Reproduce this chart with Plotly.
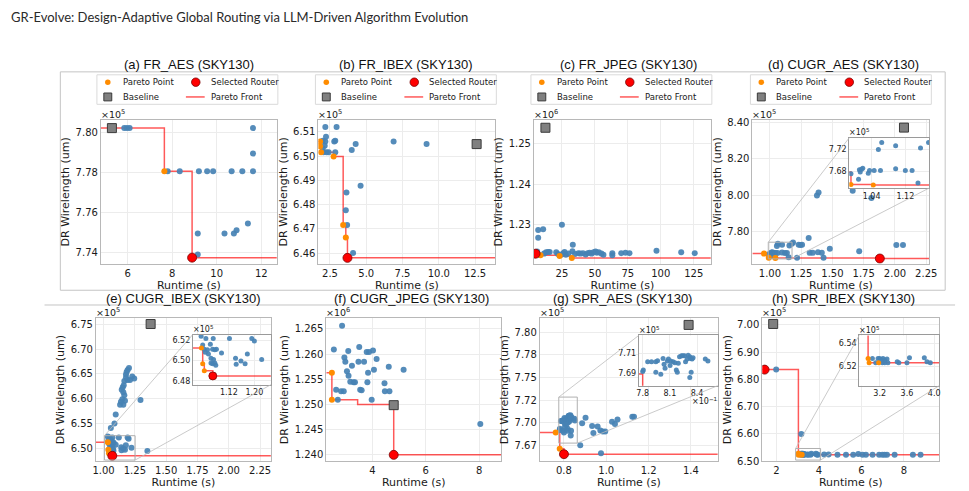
import plotly.graph_objects as go

W, H = 969, 491
FONT = "DejaVu Sans"

# ======================= DATA =======================
# (a) FR_AES  (wirelength x1e5)
A_BLUE_X = [5.85, 5.97, 6.09, 7.80, 8.34, 9.20, 9.57, 9.84, 10.67, 11.15, 11.63, 11.63, 11.63, 9.15, 9.15, 10.35, 10.77, 10.89, 11.40]
A_BLUE_Y = [7.802, 7.802, 7.802, 7.7806, 7.7806, 7.7806, 7.7806, 7.7806, 7.7806, 7.7806, 7.7806, 7.802, 7.7894, 7.7496, 7.7392, 7.7496, 7.7496, 7.7512, 7.7546]
A_PAR_X = [7.65]
A_PAR_Y = [7.7806]
A_SEL_X, A_SEL_Y = [8.895], [7.7376]
A_BASE_X, A_BASE_Y = [5.295], [7.802]
A_FRONT_X = [5.295, 7.65, 8.895]
A_FRONT_Y = [7.802, 7.7806, 7.7376]
A_XT = [6, 8, 10, 12]
A_YT = [7.74, 7.76, 7.78, 7.80]

# (b) FR_IBEX (x1e5)
B_BLUE_X = [2.18, 2.955, 2.227, 2.0, 2.18, 2.136, 2.0, 2.045, 2.27, 2.41, 2.795, 2.864, 2.864, 4.0, 4.27, 6.886, 9.16, 4.61, 3.636, 3.59, 3.68, 4.09]
B_BLUE_Y = [6.512, 6.512, 6.508, 6.5064, 6.5061, 6.5043, 6.5032, 6.5016, 6.5016, 6.5016, 6.5061, 6.5064, 6.5016, 6.5026, 6.505, 6.5061, 6.505, 6.4878, 6.485, 6.4777, 6.4716, 6.4601]
B_PAR_X = [1.818, 1.818, 1.886, 2.75, 3.409, 3.591]
B_PAR_Y = [6.5061, 6.5041, 6.5016, 6.4999, 6.4716, 6.4665]
B_SEL_X, B_SEL_Y = [3.705], [6.4581]
B_BASE_X, B_BASE_Y = [12.61], [6.505]
B_FRONT_X = [1.818, 1.818, 1.886, 2.75, 3.409, 3.591, 3.705]
B_FRONT_Y = [6.5061, 6.5041, 6.5016, 6.4999, 6.4716, 6.4665, 6.4581]
B_XT = [2.5, 5.0, 7.5, 10.0, 12.5]
B_YT = [6.46, 6.47, 6.48, 6.49, 6.50, 6.51]

# (c) FR_JPEG (x1e6)
C_BLUE_X = [7, 7, 10.75, 25, 33.25, 6.25, 6.0, 7.5, 11.5, 13.0, 14.5, 15.7, 20.7, 22, 24.5, 26, 27, 28, 30, 33, 35, 37.5, 39, 41, 43, 44.5, 46, 47.5, 49, 50.5, 51.5, 53, 55, 56.5, 63.25, 63.25, 70, 73.25, 76.25, 96.75, 115.5, 125.75]
C_BLUE_Y = [1.2287, 1.2268, 1.2289, 1.2300, 1.2251, 1.2234, 1.2229, 1.2226, 1.2229, 1.2232, 1.2233, 1.2233, 1.2232, 1.2228, 1.2226, 1.2230, 1.2233, 1.2226, 1.2229, 1.2235, 1.2228, 1.2230, 1.2229, 1.2230, 1.2227, 1.2230, 1.2231, 1.2229, 1.2232, 1.2234, 1.2231, 1.2232, 1.2229, 1.2226, 1.2230, 1.2225, 1.2230, 1.2231, 1.2230, 1.2236, 1.2232, 1.2230]
C_PAR_X = [8.75, 23.25, 32.5]
C_PAR_Y = [1.22247, 1.2223, 1.22182]
C_SEL_X, C_SEL_Y = [5.0], [1.22287]
C_BASE_X, C_BASE_Y = [12.5], [1.2540]
C_FRONT_X = [5.0, 8.75, 23.25, 32.5]
C_FRONT_Y = [1.22287, 1.22247, 1.2223, 1.22182]
C_XT = [25, 50, 75, 100, 125]
C_YT = [1.23, 1.24, 1.25]

# (d) CUGR_AES (x1e5)
D_BLUE_X = [0.991, 1.011, 1.013, 1.016, 1.019, 1.009, 1.032, 1.035, 1.046, 1.061, 1.097, 1.120, 1.136, 1.150, 1.064, 1.056, 1.097, 1.156, 1.175,
            1.376, 1.389, 1.310, 1.479, 1.714, 2.011, 2.064, 1.429, 1.384, 1.415, 1.217, 1.230, 1.244, 1.257, 1.185, 1.318, 1.342, 1.662, 1.812]
D_BLUE_Y = [7.676, 7.683, 7.679, 7.684, 7.686, 7.666, 7.677, 7.682, 7.682, 7.682, 7.685, 7.682, 7.682, 7.659, 7.733, 7.720, 7.727, 7.723, 7.733,
            7.997, 8.014, 7.764, 7.705, 7.692, 7.726, 7.726, 7.656, 7.687, 7.683, 7.656, 7.728, 7.726, 7.728, 7.740, 7.683, 7.683, 8.024, 7.983]
D_PAR_X = [0.953, 0.991, 1.044]
D_PAR_Y = [7.679, 7.6565, 7.6555]
D_SEL_X, D_SEL_Y = [1.879], [7.652]
D_BASE_X, D_BASE_Y = [2.072], [8.3695]
D_FRONT_X = [0.953, 0.991, 1.044, 1.879]
D_FRONT_Y = [7.679, 7.6565, 7.6555, 7.652]
D_XT = [1.00, 1.25, 1.50, 1.75, 2.00, 2.25]
D_YT = [7.80, 8.00, 8.20, 8.40]
D_IXT = [1.04, 1.12]
D_IYT = [7.68, 7.72]

# (e) CUGR_IBEX (x1e5)
E_BLUE_X = [1.033, 1.048, 1.071, 1.122, 1.192, 1.200, 1.038, 1.043, 1.053, 1.062, 1.069, 1.076, 1.081, 1.097, 1.046, 1.056, 1.064, 1.069, 1.076, 1.079, 1.064, 1.072, 1.141, 1.143, 1.158, 1.171, 1.178, 1.223,
            1.145, 1.153, 1.158, 1.166, 1.150, 1.171, 1.161, 1.166, 1.179, 1.179, 1.184, 1.192, 1.203, 1.192, 1.211, 1.229, 1.245, 1.158, 1.132, 1.139, 1.097, 1.087, 1.058, 1.295, 1.350]
E_BLUE_Y = [6.5238, 6.5216, 6.5216, 6.5216, 6.5216, 6.519, 6.5152, 6.511, 6.5105, 6.5159, 6.511, 6.5105, 6.511, 6.5073, 6.508, 6.5063, 6.5022, 6.4968, 6.4975, 6.4952, 6.4975, 6.501, 6.5022, 6.4962, 6.4994, 6.4968, 6.5063, 6.501,
            6.618, 6.623, 6.613, 6.607, 6.599, 6.596, 6.627, 6.636, 6.643, 6.649, 6.654, 6.658, 6.662, 6.638, 6.638, 6.645, 6.641, 6.588, 6.588, 6.594, 6.568, 6.550, 6.541, 6.5975, 6.4947]
E_PAR_X = [1.034, 1.038, 1.043]
E_PAR_Y = [6.5121, 6.4968, 6.4898]
E_SEL_X, E_SEL_Y = [1.0697], [6.4848]
E_BASE_X, E_BASE_Y = [1.376], [6.7507]
E_FRONT_X = [1.034, 1.038, 1.043, 1.0697]
E_FRONT_Y = [6.5121, 6.4968, 6.4898, 6.4848]
E_XT = [1.00, 1.25, 1.50, 1.75, 2.00, 2.25]
E_YT = [6.50, 6.55, 6.60, 6.65, 6.70, 6.75]
E_IXT = [1.12, 1.20]
E_IYT = [6.48, 6.50, 6.52]

# (f) CUGR_JPEG (x1e6)
F_BLUE_X = [2.868, 2.56, 2.954, 2.99, 3.10, 3.51, 3.237, 3.05, 3.11, 3.175, 3.298, 3.35, 3.48, 3.69, 3.79, 3.877, 4.025, 4.16, 3.84, 4.06, 3.815, 3.545, 3.60, 2.646, 2.83, 2.93, 2.708, 3.975, 4.455, 4.47, 4.64, 4.615, 5.17, 8.04]
F_BLUE_Y = [1.2656, 1.2609, 1.2593, 1.2585, 1.2606, 1.2614, 1.2577, 1.2566, 1.2557, 1.2545, 1.2544, 1.2544, 1.2585, 1.2585, 1.2604, 1.2604, 1.2607, 1.2590, 1.2563, 1.2569, 1.2544, 1.2529, 1.2528, 1.2529, 1.2526, 1.2526, 1.25095, 1.25095, 1.2542, 1.2526, 1.2526, 1.2575, 1.2569, 1.2461]
F_PAR_X = [2.486, 2.486]
F_PAR_Y = [1.2563, 1.25095]
F_SEL_X, F_SEL_Y = [4.8], [1.2400]
F_BASE_X, F_BASE_Y = [4.8], [1.24986]
F_FRONT_X = [2.486, 2.486, 3.45, 4.8, 4.8]
F_FRONT_Y = [1.2563, 1.25095, 1.24998, 1.24986, 1.2400]
F_XT = [4, 6, 8]
F_YT = [1.240, 1.245, 1.250, 1.255, 1.260, 1.265]

# (g) SPR_AES (x1e5)
G_BLUE_X = [0.78, 0.7807, 0.7855, 0.7898, 0.7945, 0.7964, 0.7945, 0.80, 0.8025, 0.8036, 0.8047, 0.8073, 0.8084, 0.8109, 0.8135, 0.8156, 0.8171, 0.8182, 0.8193, 0.8207, 0.8229, 0.8244, 0.8262, 0.8273, 0.8291, 0.8302, 0.832, 0.8327, 0.8345, 0.8356, 0.8335, 0.832, 0.8491, 0.852, 0.8102,
            0.877, 0.902, 0.886, 0.933, 0.939, 0.959, 0.972, 0.983, 0.995, 0.975, 1.027, 1.041, 1.053, 1.123, 1.131]
G_BLUE_Y = [7.6917, 7.6933, 7.7017, 7.7017, 7.7017, 7.7027, 7.691, 7.689, 7.705, 7.699, 7.695, 7.7023, 7.7043, 7.7023, 7.7017, 7.7007, 7.6933, 7.691, 7.70, 7.7067, 7.7077, 7.7077, 7.7077, 7.7017, 7.7043, 7.7083, 7.7067, 7.705, 7.7043, 7.7057, 7.691, 7.6857, 7.7043, 7.7023, 7.6977,
            7.675, 7.7053, 7.6992, 7.6963, 7.6884, 7.6956, 7.6913, 7.6902, 7.6902, 7.666, 7.701, 7.6985, 7.7035, 7.7064, 7.7064]
G_PAR_X = [0.761, 0.78]
G_PAR_Y = [7.6891, 7.6711]
G_SEL_X, G_SEL_Y = [0.80], [7.665]
G_BASE_X, G_BASE_Y = [1.389], [7.8083]
G_FRONT_X = [0.761, 0.78, 0.80]
G_FRONT_Y = [7.6891, 7.6711, 7.665]
G_XT = [0.8, 1.0, 1.2, 1.4]
G_YT = [7.675, 7.700, 7.725, 7.750, 7.775, 7.800]
G_YT_TEXT = ['7.67', '7.70', '7.72', '7.75', '7.78', '7.80']
G_IXT = [0.78, 0.81, 0.84]
G_IXT_TEXT = ['7.8', '8.1', '8.4']
G_IYT = [7.69, 7.71]

# (h) SPR_IBEX (x1e5)
H_BLUE_X = [1.984, 3.168, 3.093, 3.176, 3.2, 3.224, 3.249, 3.273, 3.307, 3.321, 3.239, 3.273, 3.142, 3.457, 3.481, 3.6, 3.637, 3.855, 3.894, 3.943,
            4.24, 4.45, 4.87, 5.27, 5.61, 5.85, 6.05, 6.21, 6.52, 6.83, 6.98, 7.09, 7.20, 7.56, 8.42, 8.78]
H_BLUE_Y = [6.836, 6.5993, 6.5269, 6.5269, 6.5269, 6.5261, 6.5269, 6.5256, 6.5264, 6.5233, 6.5233, 6.5233, 6.5233, 6.5242, 6.5233, 6.5233, 6.5275, 6.5275, 6.5242, 6.5233,
            6.5242, 6.5242, 6.5233, 6.5233, 6.5238, 6.5260, 6.5233, 6.5233, 6.5233, 6.5233, 6.5233, 6.5233, 6.5233, 6.5233, 6.5233, 6.5233]
H_PAR_X = [3.03, 3.045, 3.185]
H_PAR_Y = [6.5269, 6.5233, 6.5233]
H_SEL_X, H_SEL_Y = [1.439], [6.836]
H_BASE_X, H_BASE_Y = [1.844], [7.0036]
H_FRONT_X = [1.439, 3.03, 3.045, 3.185]
H_FRONT_Y = [6.836, 6.5269, 6.5233, 6.5233]
H_XT = [2, 4, 6, 8]
H_YT = [6.50, 6.60, 6.70, 6.80, 6.90, 7.00]
H_IXT = [3.2, 3.6, 4.0]
H_IYT = [6.52, 6.54]

TITLES = ['(a) FR_AES (SKY130)', '(b) FR_IBEX (SKY130)', '(c) FR_JPEG (SKY130)', '(d) CUGR_AES (SKY130)',
          '(e) CUGR_IBEX (SKY130)', '(f) CUGR_JPEG (SKY130)', '(g) SPR_AES (SKY130)', '(h) SPR_IBEX (SKY130)']
EXPONENTS = ['5', '5', '6', '5', '5', '6', '5', '5']
HEADER = 'GR-Evolve: Design-Adaptive Global Routing via LLM-Driven Algorithm Evolution'

# ======================= LAYOUT CONFIG (pixels) =======================
def fmt(vals, f):
    return [f.format(v) for v in vals]

PANELS = [
    dict(box=(99, 119, 277, 265), xr=[4.8, 12.7], yr=[7.7346, 7.806], xt=A_XT, xtt=fmt(A_XT, '{:g}'), yt=A_YT, ytt=fmt(A_YT, '{:.2f}'),
         d=(A_BLUE_X, A_BLUE_Y, A_PAR_X, A_PAR_Y, A_SEL_X, A_SEL_Y, A_BASE_X, A_BASE_Y, A_FRONT_X, A_FRONT_Y), tx=188, ty=63, leg=95),
    dict(box=(319, 119, 498, 265), xr=[1.70, 13.9], yr=[6.4557, 6.5149], xt=B_XT, xtt=fmt(B_XT, '{:.1f}'), yt=B_YT, ytt=fmt(B_YT, '{:.2f}'),
         d=(B_BLUE_X, B_BLUE_Y, B_PAR_X, B_PAR_Y, B_SEL_X, B_SEL_Y, B_BASE_X, B_BASE_Y, B_FRONT_X, B_FRONT_Y), tx=408, ty=63, leg=316),
    dict(box=(537, 119, 716, 265), xr=[3.75, 138], yr=[1.2204, 1.2559], xt=C_XT, xtt=fmt(C_XT, '{:g}'), yt=C_YT, ytt=fmt(C_YT, '{:.2f}'),
         d=(C_BLUE_X, C_BLUE_Y, C_PAR_X, C_PAR_Y, C_SEL_X, C_SEL_Y, C_BASE_X, C_BASE_Y, C_FRONT_X, C_FRONT_Y), tx=633, ty=63, leg=534),
    dict(box=(758, 119, 937, 265), xr=[0.86, 2.275], yr=[7.6237, 8.4108], xt=D_XT, xtt=fmt(D_XT, '{:.2f}'), yt=D_YT, ytt=fmt(D_YT, '{:.2f}'),
         d=(D_BLUE_X, D_BLUE_Y, D_PAR_X, D_PAR_Y, D_SEL_X, D_SEL_Y, D_BASE_X, D_BASE_Y, D_FRONT_X, D_FRONT_Y), tx=850, ty=63, leg=756,
         inset=dict(box=(856, 137, 937, 188), xr=[0.987, 1.177], yr=[7.650, 7.7415], xt=D_IXT, xtt=fmt(D_IXT, '{:.2f}'), yt=D_IYT, ytt=fmt(D_IYT, '{:.2f}'))),
    dict(box=(94, 320, 271, 466), xr=[0.939, 2.337], yr=[6.4735, 6.7633], xt=E_XT, xtt=fmt(E_XT, '{:.2f}'), yt=E_YT, ytt=fmt(E_YT, '{:.2f}'),
         d=(E_BLUE_X, E_BLUE_Y, E_PAR_X, E_PAR_Y, E_SEL_X, E_SEL_Y, E_BASE_X, E_BASE_Y, E_FRONT_X, E_FRONT_Y), tx=183, ty=300,
         inset=dict(box=(192, 337, 271, 388), xr=[1.007, 1.252], yr=[6.4762, 6.5254], xt=E_IXT, xtt=fmt(E_IXT, '{:.2f}'), yt=E_IYT, ytt=fmt(E_IYT, '{:.2f}'))),
    dict(box=(327, 320, 504, 466), xr=[2.277, 8.825], yr=[1.2387, 1.2672], xt=F_XT, xtt=fmt(F_XT, '{:g}'), yt=F_YT, ytt=fmt(F_YT, '{:.3f}'),
         d=(F_BLUE_X, F_BLUE_Y, F_PAR_X, F_PAR_Y, F_SEL_X, F_SEL_Y, F_BASE_X, F_BASE_Y, F_FRONT_X, F_FRONT_Y), tx=413, ty=300),
    dict(box=(543, 320, 723, 466), xr=[0.686, 1.527], yr=[7.657, 7.8162], xt=G_XT, xtt=fmt(G_XT, '{:.1f}'), yt=G_YT, ytt=G_YT_TEXT,
         d=(G_BLUE_X, G_BLUE_Y, G_PAR_X, G_PAR_Y, G_SEL_X, G_SEL_Y, G_BASE_X, G_BASE_Y, G_FRONT_X, G_FRONT_Y), tx=627, ty=300,
         inset=dict(box=(643, 338, 723, 389), xr=[0.7756, 0.8629], yr=[7.6773, 7.7283], xt=G_IXT, xtt=G_IXT_TEXT, yt=G_IYT, ytt=fmt(G_IYT, '{:.2f}'), xexp='-1')),
    dict(box=(768, 320, 947, 466), xr=[1.33, 9.66], yr=[6.499, 7.0263], xt=H_XT, xtt=fmt(H_XT, '{:g}'), yt=H_YT, ytt=fmt(H_YT, '{:.2f}'),
         d=(H_BLUE_X, H_BLUE_Y, H_PAR_X, H_PAR_Y, H_SEL_X, H_SEL_Y, H_BASE_X, H_BASE_Y, H_FRONT_X, H_FRONT_Y), tx=850, ty=300,
         inset=dict(box=(866, 338, 947, 389), xr=[2.899, 4.074], yr=[6.5039, 6.5464], xt=H_IXT, xtt=fmt(H_IXT, '{:.1f}'), yt=H_IYT, ytt=fmt(H_IYT, '{:.2f}'))),
]

BLUE = '#4682B4'
ORANGE = '#FF8C00'
RED = '#FF0000'
GRAY = '#808080'
FRONT_COLOR = 'rgba(255,0,0,0.65)'
FRAME = '#c4c4c4'

def fx(p): return p / W
def fy(p): return 1 - p / H

fig = go.Figure()
layout = dict(width=W, height=H, margin=dict(l=0, r=0, t=0, b=0), paper_bgcolor='white', plot_bgcolor='white',
              showlegend=False, shapes=[], annotations=[])

def axis(box_lo, box_hi, rng, tv, tt, anchor, fsize, is_x, title=None, line='#b8b8b8'):
    dom = [fx(box_lo), fx(box_hi)] if is_x else [fy(box_hi), fy(box_lo)]
    a = dict(domain=dom, range=rng, anchor=anchor, tickmode='array', tickvals=tv, ticktext=tt,
             showgrid=True, gridcolor='#ececec', gridwidth=1, zeroline=False, showline=True, mirror=True,
             linecolor=line, linewidth=1, ticks='', tickfont=dict(family=FONT, size=fsize, color='#1a1a1a'),
             fixedrange=True)
    if title:
        a['title'] = dict(text=title, font=dict(family=FONT, size=11, color='#1a1a1a'), standoff=1 if is_x else 3)
    return a

def add_points(n, d, xr, big=9, small=6):
    bx, by, px_, py_, sx, sy, basex, basey, frx, fry = d
    xs = [xr[0]] + list(frx) + [xr[1]]
    ys = [fry[0]] + list(fry) + [fry[-1]]
    ax = dict(xaxis='x' if n == 1 else f'x{n}', yaxis='y' if n == 1 else f'y{n}')
    fig.add_trace(go.Scatter(x=xs, y=ys, mode='lines', line=dict(color=FRONT_COLOR, width=1.5, shape='hv'), hoverinfo='skip', **ax))
    fig.add_trace(go.Scatter(x=bx, y=by, mode='markers', marker=dict(color=BLUE, size=small, opacity=0.92), **ax))
    fig.add_trace(go.Scatter(x=px_, y=py_, mode='markers', marker=dict(color=ORANGE, size=small), **ax))
    fig.add_trace(go.Scatter(x=sx, y=sy, mode='markers', marker=dict(color=RED, size=big, line=dict(color='#7a0000', width=0.8)), **ax))
    fig.add_trace(go.Scatter(x=basex, y=basey, mode='markers', marker=dict(symbol='square', color=GRAY, size=big, line=dict(color='#3a3a3a', width=1)), **ax))

def data_to_px(p, x, y):
    x0, y0, x1, y1 = p['box']
    px = x0 + (x - p['xr'][0]) / (p['xr'][1] - p['xr'][0]) * (x1 - x0)
    py = y1 - (y - p['yr'][0]) / (p['yr'][1] - p['yr'][0]) * (y1 - y0)
    return px, py

def sup_text(e):
    return '×10<sup>' + e.replace('-', '−') + '</sup>'

inset_n = 9
for i, p in enumerate(PANELS):
    n = i + 1
    sfx = '' if n == 1 else str(n)
    x0, y0, x1, y1 = p['box']
    layout['xaxis' + sfx] = axis(x0, x1, p['xr'], p['xt'], p['xtt'], 'y' + sfx, 10, True, 'Runtime (s)')
    layout['yaxis' + sfx] = axis(y0, y1, p['yr'], p['yt'], p['ytt'], 'x' + sfx, 10, False, 'DR Wirelength (um)')
    add_points(n, p['d'], p['xr'])
    # exponent label
    layout['annotations'].append(dict(text=sup_text(EXPONENTS[i]), x=fx(x0 - 1), y=fy(y0 + 1), xref='paper', yref='paper',
                                      xanchor='left', yanchor='bottom', showarrow=False, borderpad=0,
                                      font=dict(family=FONT, size=9.5, color='#1a1a1a')))
    # subplot title
    layout['annotations'].append(dict(text=TITLES[i], x=fx(p['tx']), y=fy(p['ty']), xref='paper', yref='paper',
                                      xanchor='center', yanchor='middle', showarrow=False, borderpad=0,
                                      font=dict(family='Liberation Sans', size=13, color='#111')))
    # inset
    if 'inset' in p:
        q = p['inset']
        m = inset_n
        inset_n += 1
        ix0, iy0, ix1, iy1 = q['box']
        layout[f'xaxis{m}'] = axis(ix0, ix1, q['xr'], q['xt'], q['xtt'], f'y{m}', 8, True, line='#9a9a9a')
        layout[f'yaxis{m}'] = axis(iy0, iy1, q['yr'], q['yt'], q['ytt'], f'x{m}', 8, False, line='#9a9a9a')
        add_points(m, p['d'], q['xr'], big=8, small=5)
        layout['annotations'].append(dict(text=sup_text('5'), x=fx(ix0 - 1), y=fy(iy0 + 0.5), xref='paper', yref='paper',
                                          xanchor='left', yanchor='bottom', showarrow=False, borderpad=0,
                                          font=dict(family=FONT, size=8, color='#1a1a1a')))
        if 'xexp' in q:
            layout['annotations'].append(dict(text=sup_text(q['xexp']), x=fx(ix1 + 1), y=fy(iy1 + 10), xref='paper', yref='paper',
                                              xanchor='right', yanchor='top', showarrow=False, borderpad=0,
                                              font=dict(family=FONT, size=8, color='#1a1a1a')))
        # zoom rectangle in main axes
        layout['shapes'].append(dict(type='rect', xref='x' + sfx, yref='y' + sfx, x0=q['xr'][0], x1=q['xr'][1],
                                     y0=q['yr'][0], y1=q['yr'][1], line=dict(color='#b0b0b0', width=1), layer='above'))
        # connectors
        ra = data_to_px(p, q['xr'][0], q['yr'][1])
        rb = data_to_px(p, q['xr'][1], q['yr'][0])
        for (sx, sy), (tx, ty) in [(ra, (ix0, iy0)), (rb, (ix1, iy1))]:
            layout['shapes'].append(dict(type='line', xref='paper', yref='paper', x0=fx(sx), y0=fy(sy), x1=fx(tx), y1=fy(ty),
                                         line=dict(color='#bdbdbd', width=0.8), layer='above'))
    # legend (top row)
    if 'leg' in p:
        L = p['leg']
        layout['shapes'].append(dict(type='rect', xref='paper', yref='paper', x0=fx(L), x1=fx(L + 183), y0=fy(103), y1=fy(73),
                                     line=dict(color='#dadada', width=1), fillcolor='white', layer='above'))
        def circ(cx, cy, r, color, edge=None):
            layout['shapes'].append(dict(type='circle', xref='paper', yref='paper', x0=fx(cx - r), x1=fx(cx + r), y0=fy(cy + r), y1=fy(cy - r),
                                         fillcolor=color, line=dict(color=edge or color, width=0.8 if edge else 0), layer='above'))
        circ(L + 11, 80.5, 2.8, ORANGE)
        circ(L + 100, 80.5, 4.3, RED, '#7a0000')
        layout['shapes'].append(dict(type='rect', xref='paper', yref='paper', x0=fx(L + 7), x1=fx(L + 15), y0=fy(99.5), y1=fy(91.5),
                                     fillcolor=GRAY, line=dict(color='#3a3a3a', width=1), layer='above'))
        layout['shapes'].append(dict(type='line', xref='paper', yref='paper', x0=fx(L + 90), x1=fx(L + 109), y0=fy(95.5), y1=fy(95.5),
                                     line=dict(color=FRONT_COLOR, width=1.5), layer='above'))
        for txt, tx_, ty_ in [('Pareto Point', L + 24, 80.5), ('Selected Router', L + 113, 80.5), ('Baseline', L + 24, 95.5), ('Pareto Front', L + 113, 95.5)]:
            layout['annotations'].append(dict(text=txt, x=fx(tx_), y=fy(ty_), xref='paper', yref='paper', xanchor='left', yanchor='middle',
                                              showarrow=False, font=dict(family=FONT, size=8.5, color='#1a1a1a')))

# frames
layout['shapes'].append(dict(type='rect', xref='paper', yref='paper', x0=fx(58), x1=fx(953), y0=fy(292), y1=fy(70),
                             line=dict(color=FRAME, width=1), layer='below'))
layout['shapes'].append(dict(type='line', xref='paper', yref='paper', x0=fx(42), x1=fx(963), y0=fy(307), y1=fy(307),
                             line=dict(color=FRAME, width=1), layer='below'))
# header
layout['annotations'].append(dict(text=HEADER, x=fx(6), y=fy(14), xref='paper', yref='paper', xanchor='left', yanchor='middle',
                                  showarrow=False, font=dict(family='Lato', size=13, color='#2a2a2a')))

fig.update_layout(**layout)
fig.write_html('out.html')
